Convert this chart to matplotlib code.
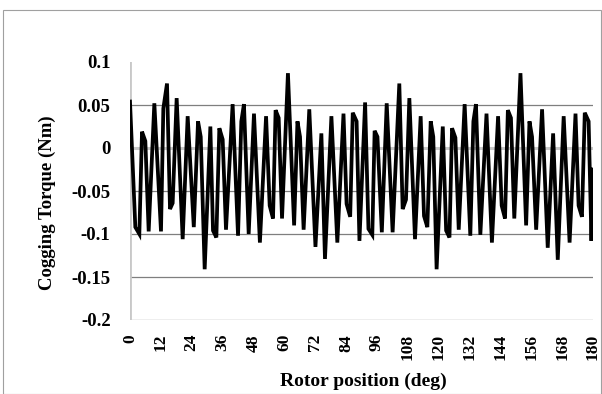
import matplotlib
matplotlib.use("Agg")
import matplotlib.pyplot as plt

# Rotor position (deg) and cogging torque (Nm)
position = [0.0, 2.07, 3.63, 4.67, 5.96, 7.26, 9.46, 12.05, 12.96, 14.39, 15.55, 16.59,
            18.14, 20.48, 22.42, 24.8, 26.45, 27.5, 29.03, 31.24, 32.27, 33.57, 34.73,
            36.03, 37.32, 39.9, 42.0, 43.28, 44.3, 46.14, 48.2, 50.5, 52.9, 54.3, 55.6,
            56.6, 57.8, 59.1, 61.4, 63.8, 65.1, 66.1, 67.5, 69.7, 72.1, 74.4, 75.8, 78.3,
            80.6, 83.0, 84.2, 85.6, 86.6, 88.1, 89.2, 91.4, 92.7, 94.2, 95.1, 96.2, 97.9,
            99.8, 102.1, 104.7, 106.0, 107.3, 108.6, 110.8, 113.0, 114.3, 115.6, 116.9,
            117.9, 119.2, 121.6, 122.9, 124.2, 125.2, 126.5, 127.8, 130.1, 132.3, 133.5,
            134.5, 136.2, 138.6, 140.7, 143.1, 144.5, 145.8, 146.9, 148.1, 149.4, 151.8,
            154.0, 155.3, 156.3, 157.9, 160.2, 162.4, 164.5, 166.3, 168.6, 170.9, 173.2,
            174.4, 175.7, 176.8, 178.3, 179.4, 180.0]
torque = [0.054, -0.092, -0.100, 0.019, 0.008, -0.097, 0.052, -0.097, 0.046, 0.075, -0.071, -0.064,
          0.058, -0.106, 0.037, -0.092, 0.031, 0.013, -0.141, 0.025, -0.096, -0.104, 0.023,
          0.010, -0.095, 0.051, -0.102, 0.031, 0.051, -0.100, 0.040, -0.110, 0.037, -0.067, -0.082,
          0.044, 0.035, -0.082, 0.087, -0.090, 0.031, 0.013, -0.095, 0.045, -0.115, 0.017, -0.129, 0.037,
          -0.110, 0.040, -0.065, -0.080, 0.041, 0.031, -0.108, 0.053, -0.094, -0.101, 0.020, 0.013, -0.098,
          0.052, -0.098, 0.075, -0.071, -0.060, 0.058, -0.106, 0.037, -0.079, -0.092, 0.031,
          0.013, -0.141, 0.025, -0.096, -0.104, 0.023, 0.012, -0.095, 0.051, -0.102, 0.031,
          0.051, -0.101, 0.040, -0.110, 0.037, -0.067, -0.082, 0.044, 0.035, -0.082, 0.087,
          -0.090, 0.031, 0.013, -0.095, 0.045, -0.116, 0.017, -0.130, 0.037, -0.110, 0.040,
          -0.067, -0.080, 0.041, 0.031, -0.108, -0.025]

x_ticks = list(range(0, 181, 12))
y_ticks = [0.1, 0.05, 0, -0.05, -0.1, -0.15, -0.2]
y_tick_labels = ["0.1", "0.05", "0", "-0.05", "-0.1", "-0.15", "-0.2"]

plt.rcParams['font.family'] = ['Liberation Serif', 'DejaVu Serif']

W, H = 602, 394
fig = plt.figure(figsize=(W / 100, H / 100), dpi=100)
ax = fig.add_axes([130/W, 1 - 320/H, (593 - 130)/W, (320 - 62)/H])

ax.set_xlim(0, 180)
ax.set_ylim(-0.2, 0.1)

for yv in y_ticks:
    if yv == 0.1:
        continue
    ax.axhline(yv, color='#7f7f7f', lw=0.9, zorder=1)
ax.axhline(0, color='#c8c8c8', lw=2.2, zorder=1.5)
ax.axvline(0, color='#c8c8c8', lw=2.0, zorder=1.5)

ax.plot(position, torque, color='black', lw=2.7, solid_joinstyle='miter', zorder=3)

for s in ax.spines.values():
    s.set_visible(False)

ax.set_xticks(x_ticks)
ax.set_xticklabels([str(v) for v in x_ticks], rotation=90, fontsize=12.5, fontweight='bold')
ax.set_yticks(y_ticks)
ax.set_yticklabels(y_tick_labels, fontsize=13.5, fontweight='bold')
ax.tick_params(axis='x', length=0, pad=10)
ax.tick_params(axis='y', length=0, pad=14)

fig.text(363/W, 1 - 381/H, "Rotor position (deg)", fontsize=14, fontweight='bold',
         ha='center', va='center')
fig.text(47/W, 1 - 203/H, "Cogging Torque (Nm)", fontsize=13.5, fontweight='bold',
         ha='center', va='center', rotation=90)

# chart border
fig.patches.append(plt.Rectangle((3/W, 0), 1 - 3/W - 1/W, 1 - 10/H, transform=fig.transFigure,
                                 fill=False, edgecolor='#a0a0a0', lw=0.8))

fig.savefig("out.png", dpi=100)
